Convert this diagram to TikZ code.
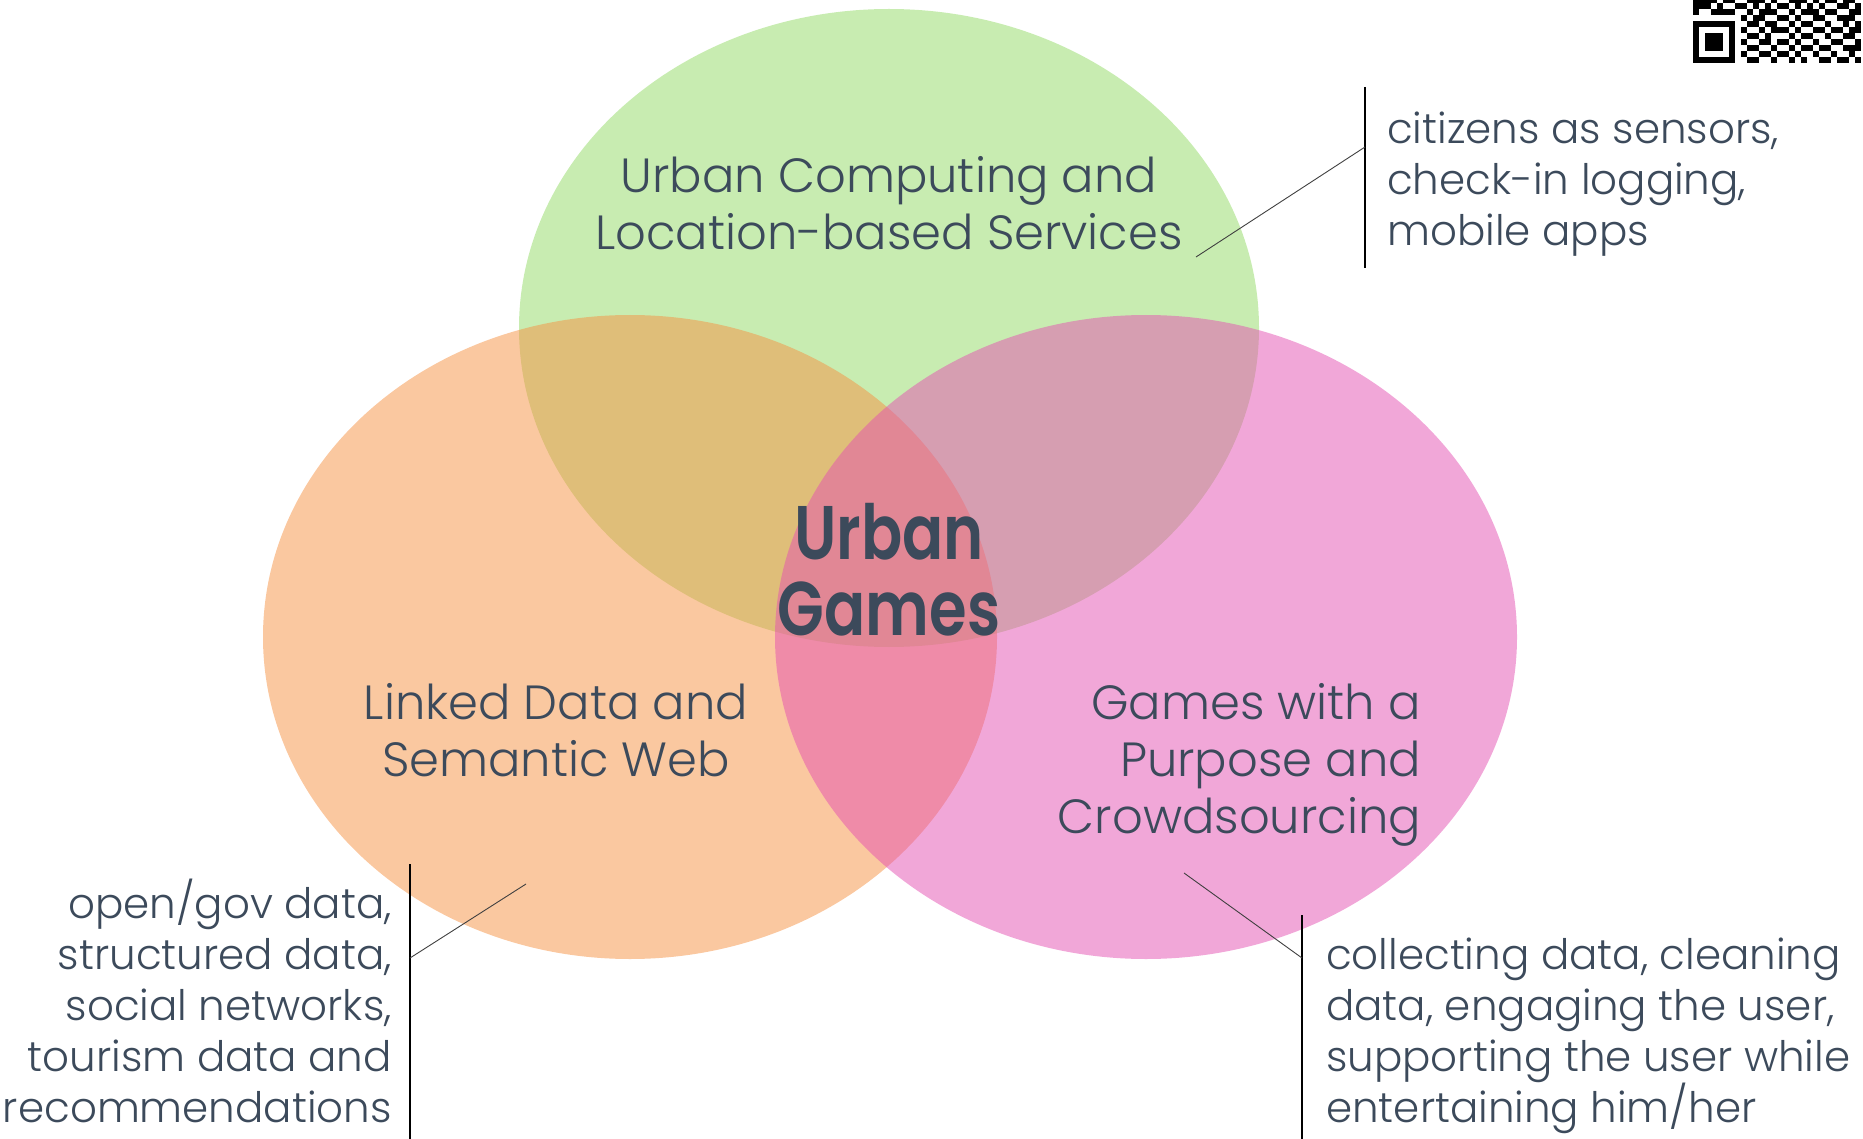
\documentclass[tikz,border=0pt]{standalone}
\usepackage{fontspec}
\setmainfont{Poppins}[UprightFont=* Light, BoldFont=* SemiBold]
\newfontfamily\corefont{Poppins}[UprightFont=* SemiBold, FakeStretch=0.8]
\definecolor{ink}{HTML}{3C4A5B}
\definecolor{greenfill}{RGB}{145,218,100}
\definecolor{orangefill}{RGB}{246,145,66}
\definecolor{pinkfill}{RGB}{228,80,178}
\tikzset{
  setfill/.style={fill=#1, fill opacity=0.5, draw=none},
  areatitle/.style={text=ink, inner sep=0pt, font=\fontsize{48}{57}\selectfont},
  sidenote/.style={text=ink, inner sep=0pt, font=\fontsize{42}{51}\selectfont},
  coretitle/.style={text=ink, inner sep=0pt, align=center, font=\fontsize{76}{76}\selectfont\corefont},
  bar/.style={draw=black, line width=1.5pt},
  pointer/.style={draw=black!75, line width=0.9pt},
  qrcell/.style={fill=black}
}
\begin{document}
\begin{tikzpicture}[x=1pt,y=-1pt]
\useasboundingbox (0,0) rectangle (1863,1139);

% the three overlapping fields
\path[setfill=greenfill]  (889,328) ellipse [x radius=370, y radius=319];
\path[setfill=orangefill] (630,637) ellipse [x radius=367, y radius=322];
\path[setfill=pinkfill]   (1146,637) ellipse [x radius=371, y radius=322];

% field titles
\node[areatitle, align=center] (ucomp) at (889,203) {Urban Computing and\\Location-based Services};
\node[areatitle, align=center] (ldata) at (556,730) {Linked Data and\\Semantic Web};
\node[areatitle, align=right, anchor=east] (gwap) at (1421,765) {Games with a\\Purpose and\\Crowdsourcing};
\node[coretitle] (core) at (889,570) {Urban\\Games};

% side notes
\node[sidenote, align=left, anchor=west] (ucnote) at (1387,184) {citizens as sensors,\\check-in logging,\\mobile apps};
\node[sidenote, align=right, anchor=east] (ldnote) at (392,1001) {open/gov data,\\structured data,\\social networks,\\tourism data and\\recommendations};
\node[sidenote, align=left, anchor=west] (gwnote) at (1326,1036) {collecting data, cleaning\\data, engaging the user,\\supporting the user while\\entertaining him/her};

% brackets and pointers
\coordinate (ucTop) at (1365,87);
\coordinate (ucBot) at (1365,268);
\coordinate (ucHook) at (1365,147);
\coordinate (ucTip) at (1196,257);
\draw[bar] (ucTop) -- (ucBot);
\draw[pointer] (ucHook) -- (ucTip);

\coordinate (ldTop) at (410,864);
\coordinate (ldBot) at (410,1139);
\coordinate (ldHook) at (410,958);
\coordinate (ldTip) at (526,884);
\draw[bar] (ldTop) -- (ldBot);
\draw[pointer] (ldHook) -- (ldTip);

\coordinate (gwTop) at (1302,915);
\coordinate (gwBot) at (1302,1139);
\coordinate (gwHook) at (1302,958);
\coordinate (gwTip) at (1184,873);
\draw[bar] (gwTop) -- (gwBot);
\draw[pointer] (gwHook) -- (gwTip);

% QR code corner
\begin{scope}
\clip (1690,0) rectangle (1863,70);
\foreach \r/\cols in {
  0/{0,1,2,3,5,6,9,10,11,13,16,17,18,20,22,23,25,26},
  1/{0,1,2,4,7,8,10,12,14,15,17,19,21,24,25,27},
  2/{0,3,4,5,6,9,11,12,13,16,18,19,20,22,23,26,27},
  3/{8,10,11,14,15,17,20,21,24,25,26},
  4/{0,1,2,3,4,5,6,9,10,12,13,16,18,19,22,25,27},
  5/{0,6,8,11,13,14,15,17,20,21,23,24,26,27},
  6/{0,2,3,4,6,9,10,12,16,18,19,22,25,26},
  7/{0,2,3,4,6,8,11,12,14,15,17,20,23,24,27},
  8/{0,2,3,4,6,9,10,13,16,18,19,21,22,25,26,27},
  9/{0,6,8,11,12,14,15,17,20,23,26},
  10/{0,1,2,3,4,5,6,9,10,13,16,18,21,22,24,25,27}}{
  \foreach \c in \cols {
    \fill[qrcell] ({1693+6*\c},{-3+6*\r}) rectangle +(6,6);
  }
}
\end{scope}
\end{tikzpicture}
\end{document}
